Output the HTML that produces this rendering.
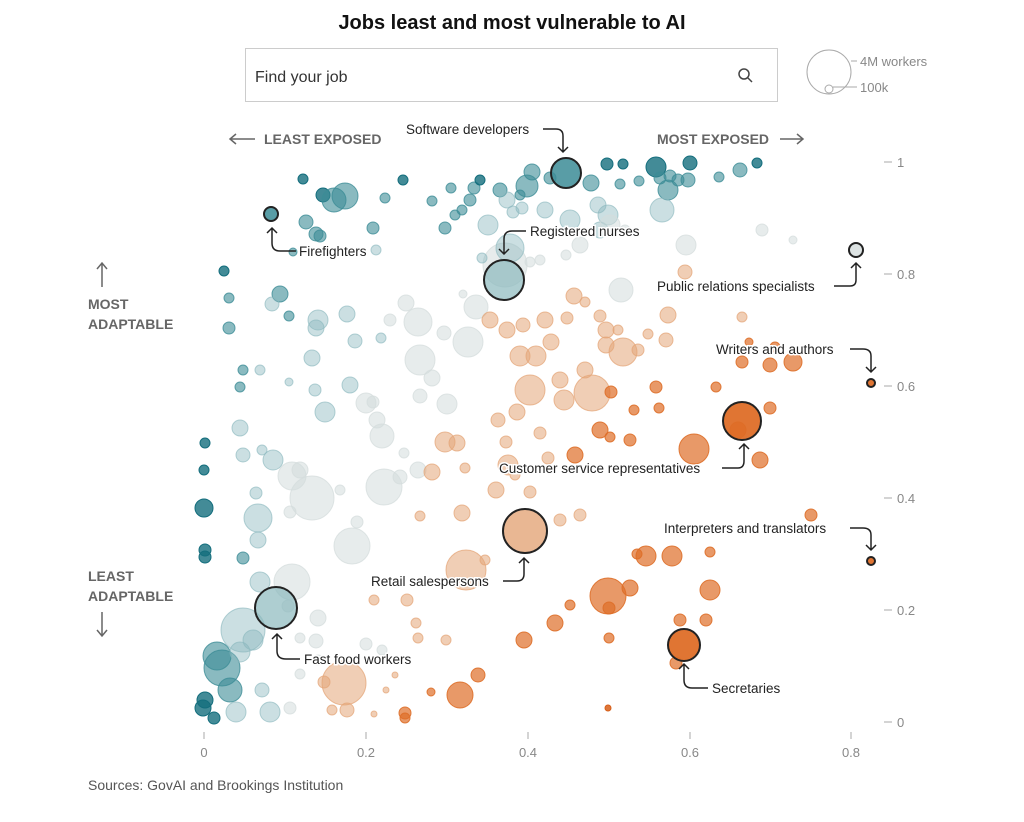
<!DOCTYPE html><html><head><meta charset="utf-8"><style>
body{margin:0;background:#fff;font-family:"Liberation Sans",sans-serif}
svg text{font-family:"Liberation Sans",sans-serif}
</style></head><body>
<svg id="s" width="1024" height="817" xmlns="http://www.w3.org/2000/svg">
<text x="512" y="29" text-anchor="middle" font-size="20" font-weight="bold" fill="#111">Jobs least and most vulnerable to AI</text>
<rect x="245.5" y="48.5" width="532" height="53" fill="#fff" stroke="#ccc"/>
<text x="255" y="82" font-size="16" fill="#333">Find your job</text>
<circle cx="744" cy="74" r="5" fill="none" stroke="#444" stroke-width="1.5"/><line x1="748" y1="78" x2="752" y2="82" stroke="#444" stroke-width="1.5"/>
<circle cx="829" cy="72" r="22" fill="none" stroke="#aaa"/><circle cx="829" cy="89" r="4" fill="none" stroke="#aaa"/>
<line x1="851" y1="61" x2="857" y2="61" stroke="#aaa"/><line x1="833" y1="87" x2="857" y2="87" stroke="#aaa"/>
<text x="860" y="66" font-size="13" fill="#888">4M workers</text><text x="860" y="92" font-size="13" fill="#888">100k</text>
<g font-size="14" font-weight="bold" fill="#666">
<text x="264" y="144">LEAST EXPOSED</text><text x="657" y="144">MOST EXPOSED</text>
<text x="88" y="309">MOST</text><text x="88" y="329">ADAPTABLE</text>
<text x="88" y="581">LEAST</text><text x="88" y="601">ADAPTABLE</text></g>
<g stroke="#666" stroke-width="1.5" fill="none">
<path d="M230 139H255M236 134L230 139L236 144"/><path d="M780 139H803M797 134L803 139L797 144"/>
<path d="M102 287V263M97 269L102 263L107 269"/><path d="M102 612V636M97 630L102 636L107 630"/></g>
<g font-size="13" fill="#888">
<text x="897" y="167">1</text><text x="897" y="279">0.8</text><text x="897" y="391">0.6</text><text x="897" y="503">0.4</text><text x="897" y="615">0.2</text><text x="897" y="727">0</text>
<text x="204" y="757" text-anchor="middle">0</text><text x="366" y="757" text-anchor="middle">0.2</text><text x="528" y="757" text-anchor="middle">0.4</text><text x="690" y="757" text-anchor="middle">0.6</text><text x="851" y="757" text-anchor="middle">0.8</text></g>
<g stroke="#aaa"><path d="M884 162h8M884 274h8M884 386h8M884 498h8M884 610h8M884 722h8M204 732v7M366 732v7M528 732v7M690 732v7M851 732v7"/></g>
<g id="b"></g>
<g font-size="13.5" fill="#222" stroke="#fff" stroke-width="3" paint-order="stroke">
<text x="406" y="134">Software developers</text>
<text x="299" y="256">Firefighters</text>
<text x="530" y="236">Registered nurses</text>
<text x="657" y="291">Public relations specialists</text>
<text x="716" y="354">Writers and authors</text>
<text x="499" y="473">Customer service representatives</text>
<text x="664" y="533">Interpreters and translators</text>
<text x="371" y="586">Retail salespersons</text>
<text x="304" y="664">Fast food workers</text>
<text x="712" y="693">Secretaries</text></g>
<g stroke="#222" stroke-width="1.5" fill="none">
<path d="M543 129H556Q563 129 563 136V152M558 147L563 152L568 147"/>
<path d="M296 251H280Q272 251 272 243V228M267 233L272 228L277 233"/>
<path d="M526 231H512Q504 231 504 239V254M499 249L504 254L509 249"/>
<path d="M834 286H850Q856 286 856 280V263M851 268L856 263L861 268"/>
<path d="M850 349H863Q871 349 871 356V372M866 367L871 372L876 367"/>
<path d="M722 468H738Q744 468 744 461V444M739 449L744 444L749 449"/>
<path d="M850 528H863Q871 528 871 535V550M866 545L871 550L876 545"/>
<path d="M503 581H517Q524 581 524 574V558M519 563L524 558L529 563"/>
<path d="M300 659H286Q277 659 277 651V634M272 639L277 634L282 639"/>
<path d="M708 688H692Q684 688 684 680V664M679 669L684 664L689 669"/></g>
<text x="88" y="790" font-size="14" fill="#555">Sources: GovAI and Brookings Institution</text>
</svg>
<script>
var C={"-3":[20,110,125,.8],"-2":[60,140,150,.6],"-1":[140,185,190,.45],"0":[212,220,220,.55],"1":[228,165,120,.55],"2":[222,110,40,.7],"3":[215,95,25,.85]};
var d=[[303,179,5,-3],[323,195,7,-3],[334,200,12,-2],[345,196,13,-2],[403,180,5,-3],[385,198,5,-2],[451,188,5,-2],[474,188,6,-2],[480,180,5,-3],[470,200,6,-2],[500,190,7,-2],[507,200,8,-1],[520,195,5,-2],[527,186,11,-2],[532,172,8,-2],[550,178,6,-2],[591,183,8,-2],[607,164,6,-3],[623,164,5,-3],[620,184,5,-2],[639,181,5,-2],[656,167,10,-3],[660,178,6,-2],[668,190,10,-2],[670,176,6,-2],[678,180,6,-2],[688,180,7,-2],[690,163,7,-3],[719,177,5,-2],[740,170,7,-2],[757,163,5,-3],[662,210,12,-1],[608,215,10,-1],[598,205,8,-1],[570,220,10,-1],[545,210,8,-1],[513,212,6,-1],[522,208,6,-1],[488,225,10,-1],[445,228,6,-2],[455,215,5,-2],[462,210,5,-2],[432,201,5,-2],[306,222,7,-2],[316,234,7,-2],[320,236,6,-2],[373,228,6,-2],[376,250,5,-1],[293,252,4,-2],[505,265,22,0],[510,248,14,-1],[482,258,5,-1],[530,262,5,0],[540,260,5,0],[566,255,5,0],[580,245,8,0],[600,230,8,-1],[610,225,10,0],[625,230,5,0],[686,245,10,0],[762,230,6,0],[793,240,4,0],[685,272,7,1],[224,271,5,-3],[229,298,5,-2],[229,328,6,-2],[280,294,8,-2],[272,304,7,-1],[289,316,5,-2],[318,320,10,-1],[316,328,8,-1],[347,314,8,-1],[381,338,5,-1],[355,341,7,-1],[312,358,8,-1],[243,370,5,-2],[240,387,5,-2],[289,382,4,-1],[260,370,5,-1],[325,412,10,-1],[315,390,6,-1],[350,385,8,-1],[366,403,10,0],[373,402,6,0],[418,322,14,0],[406,303,8,0],[390,320,6,0],[444,333,7,0],[468,342,15,0],[476,307,12,0],[463,294,4,0],[420,360,15,0],[432,378,8,0],[447,404,10,0],[377,420,8,0],[382,436,12,0],[420,396,7,0],[404,453,5,0],[445,442,10,1],[457,443,8,1],[498,420,7,1],[517,412,8,1],[530,390,15,1],[536,356,10,1],[520,356,10,1],[551,342,8,1],[545,320,8,1],[523,325,7,1],[507,330,8,1],[490,320,8,1],[567,318,6,1],[574,296,8,1],[585,302,5,1],[621,290,12,0],[600,316,6,1],[606,330,8,1],[618,330,5,1],[606,345,8,1],[623,352,14,1],[638,350,6,1],[668,315,8,1],[666,340,7,1],[648,334,5,1],[592,393,18,1],[560,380,8,1],[585,370,8,1],[564,400,10,1],[540,433,6,1],[575,455,8,2],[548,458,6,1],[508,465,10,1],[496,490,8,1],[515,475,5,1],[530,492,6,1],[506,442,6,1],[656,387,6,2],[659,408,5,2],[634,410,5,2],[716,387,5,2],[742,362,6,2],[770,365,7,2],[793,362,9,2],[775,347,5,2],[742,317,5,1],[749,342,4,2],[611,392,6,2],[610,437,5,2],[630,440,6,2],[600,430,8,2],[694,449,15,2],[738,430,8,3],[770,408,6,2],[760,460,8,2],[205,443,5,-3],[204,470,5,-3],[204,508,9,-3],[205,550,6,-3],[205,557,6,-3],[240,428,8,-1],[243,455,7,-1],[256,493,6,-1],[262,450,5,-1],[273,460,10,-1],[258,518,14,-1],[258,540,8,-1],[243,558,6,-2],[292,476,14,0],[312,498,22,0],[300,470,8,0],[290,512,6,0],[340,490,5,0],[384,487,18,0],[357,522,6,0],[352,546,18,0],[400,477,7,0],[418,470,8,0],[432,472,8,1],[462,513,8,1],[465,468,5,1],[420,516,5,1],[466,570,20,1],[485,560,5,1],[560,520,6,1],[580,515,6,1],[637,554,5,2],[646,556,10,2],[672,556,10,2],[710,552,5,2],[710,590,10,2],[608,596,18,2],[630,588,8,2],[570,605,5,2],[555,623,8,2],[524,640,8,2],[609,638,5,2],[609,608,6,2],[608,708,3,3],[680,620,6,2],[706,620,6,2],[676,663,6,2],[811,515,6,2],[203,708,8,-3],[205,700,8,-3],[214,718,6,-3],[217,656,14,-2],[222,668,18,-2],[230,690,12,-2],[236,712,10,-1],[243,630,22,-1],[240,652,10,-1],[253,640,10,-1],[262,690,7,-1],[270,712,10,-1],[292,582,18,0],[260,582,10,-1],[288,606,6,0],[300,638,5,0],[318,618,8,0],[316,641,7,0],[300,674,5,0],[318,660,5,0],[290,708,6,0],[344,683,22,1],[347,710,7,1],[332,710,5,1],[366,644,6,0],[382,650,5,0],[395,675,3,1],[386,690,3,1],[405,713,6,2],[405,718,5,2],[374,714,3,1],[431,692,4,2],[460,695,13,2],[478,675,7,2],[418,638,5,1],[446,640,5,1],[416,623,5,1],[407,600,6,1],[374,600,5,1],[324,682,6,1],
[566,173,15,-2,1],[271,214,7,-2,1],[504,280,20,-1,1],[856,250,7,0,1],[742,421,19,2,1],[871,383,4,2,1],[871,561,4,2,1],[525,531,22,1,1],[276,608,21,-1,1],[684,645,16,2,1]];
var h="";d.forEach(function(e){var c=C[e[3]];var a=e[4]?Math.min(1,c[3]+.25):c[3];var f="rgba("+c[0]+","+c[1]+","+c[2]+","+a+")";var st=e[4]?'stroke="#222" stroke-width="2"':'stroke="rgba('+c[0]+','+c[1]+','+c[2]+','+Math.min(1,c[3]+.2)+')"';h+='<circle cx="'+e[0]+'" cy="'+e[1]+'" r="'+e[2]+'" fill="'+f+'" '+st+'/>';});
document.getElementById("b").innerHTML=h;
</script>
</body></html>
